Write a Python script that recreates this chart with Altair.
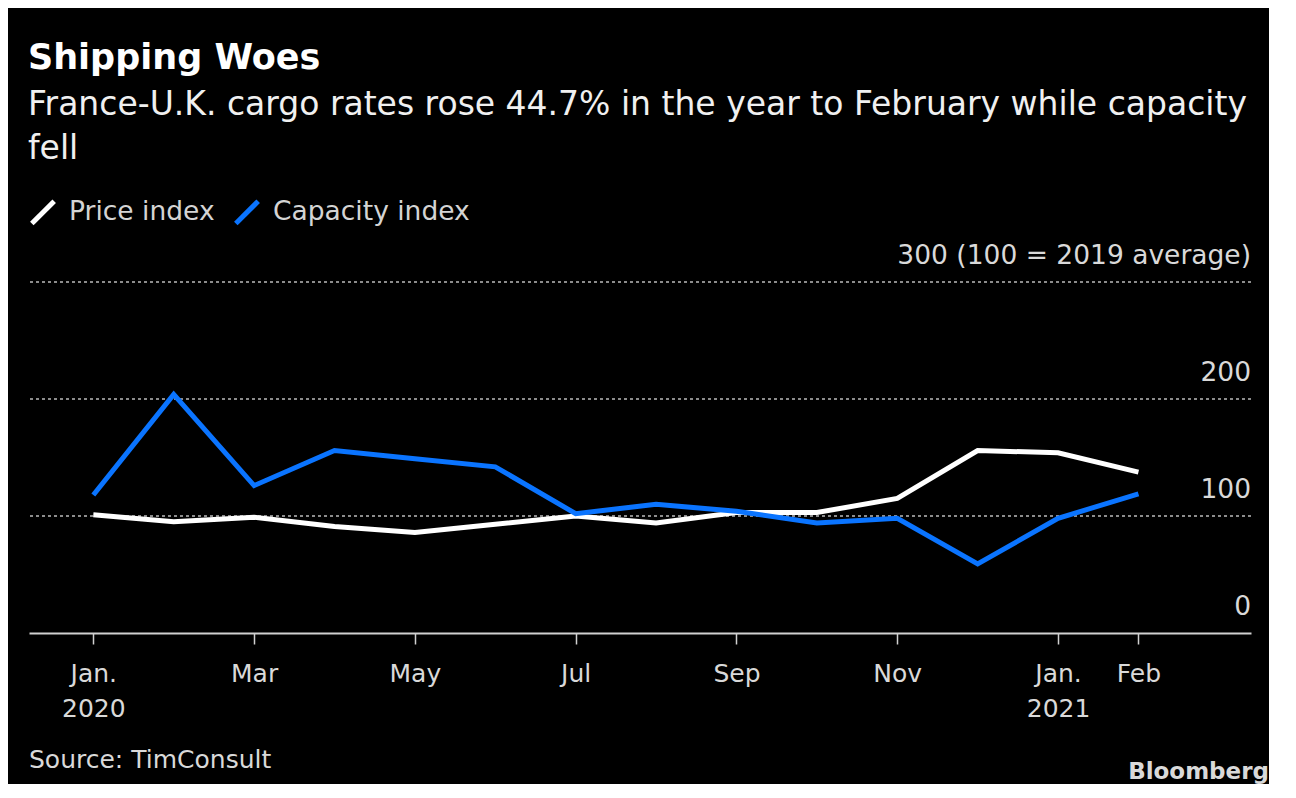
import altair as alt
import pandas as pd

FONT = "DejaVu Sans"

# ---- data ----
month_index = list(range(14))  # Jan 2020 .. Feb 2021
price_index = [101, 95, 99, 91, 86, 93, 100, 94, 103, 103, 115, 156, 154, 137.5]
capacity_index = [118, 204, 126, 156, 149, 142, 102, 110, 104, 94, 98, 59, 98, 119]

series_names = ["Price index", "Capacity index"]
series_colors = ["#ffffff", "#0a74ff"]

grid_values = [100, 200, 300]
ylabel_values = [0, 100, 200, 300]
ylabel_texts = ["0", "100", "200", "300 (100 = 2019 average)"]

xtick_values = [0, 2, 4, 6, 8, 10, 12, 13]
xtick_labels = [["Jan.", "2020"], ["Mar"], ["May"], ["Jul"], ["Sep"], ["Nov"], ["Jan.", "2021"], ["Feb"]]

W, H = 1222, 402
YMAX = 343.6

rows = []
for i, m in enumerate(month_index):
    rows.append({"m": m, "value": price_index[i], "series": series_names[0]})
    rows.append({"m": m, "value": capacity_index[i], "series": series_names[1]})
lines_df = pd.DataFrame(rows)
grid_df = pd.DataFrame({"value": grid_values})
ylab_df = pd.DataFrame({"value": ylabel_values, "label": ylabel_texts})

# label expression built from the tick label lists
expr = "''"
for v, lab in reversed(list(zip(xtick_values, xtick_labels))):
    arr = "[" + ",".join("'" + s + "'" for s in lab) + "]"
    expr = f"datum.value == {v} ? {arr} : ({expr})"

yscale = alt.Scale(domain=[0, YMAX], nice=False, zero=False)

grid = alt.Chart(grid_df).mark_rule(color="#8c8c8c", strokeDash=[3, 3], strokeWidth=2).encode(
    y=alt.Y("value:Q", scale=yscale, axis=None)
)

lines = alt.Chart(lines_df).mark_line(strokeWidth=5).encode(
    x=alt.X("m:Q", scale=alt.Scale(domain=[-0.8, 14.4], nice=False, zero=False),
            axis=alt.Axis(values=xtick_values, labelExpr=expr, title=None, grid=False,
                          domainColor="#d0d0d0", domainWidth=2, tickColor="#d0d0d0", tickWidth=1.5,
                          tickSize=11, labelFont=FONT, labelFontSize=25, labelColor="#d9d9d9",
                          labelPadding=17, labelLineHeight=35, labelBaseline="top",
                          labelAlign="center", labelFlush=False, labelOverlap=False)),
    y=alt.Y("value:Q", scale=yscale, axis=None),
    color=alt.Color("series:N",
                    scale=alt.Scale(domain=series_names, range=series_colors),
                    sort=series_names,
                    legend=alt.Legend(title=None, orient="none", legendX=0, legendY=-33,
                                      direction="horizontal", symbolType="M-1,1L1,-1",
                                      symbolSize=500, symbolStrokeWidth=5,
                                      labelFont=FONT, labelFontSize=26.5, labelColor="#d4d4d4",
                                      labelLimit=500, labelOffset=12, columnPadding=10)),
)

ylabels = alt.Chart(ylab_df).mark_text(align="right", baseline="alphabetic", dy=-18,
                                       font=FONT, fontSize=26.5, color="#d9d9d9").encode(
    x=alt.value(W),
    y=alt.Y("value:Q", scale=yscale, axis=None),
    text="label:N",
)

source = alt.Chart(pd.DataFrame({"t": ["Source: TimConsult"]})).mark_text(
    align="left", baseline="alphabetic", font=FONT, fontSize=25, color="#d9d9d9"
).encode(x=alt.value(0), y=alt.value(537), text="t:N")

logo = alt.Chart(pd.DataFrame({"t": ["Bloomberg"]})).mark_text(
    align="right", baseline="alphabetic", font=FONT, fontSize=23, fontWeight="bold", color="#d9d9d9"
).encode(x=alt.value(W + 18), y=alt.value(548), text="t:N")

chart = alt.layer(grid, lines, ylabels, source, logo).properties(
    width=W, height=H,
    padding={"left": 20, "top": 33, "right": 0, "bottom": 0},
    background="#000000",
    title=alt.TitleParams(
        text="Shipping Woes",
        subtitle=["France-U.K. cargo rates rose 44.7% in the year to February while capacity", "fell"],
        anchor="start", font=FONT, fontSize=35, fontWeight="bold", color="#ffffff",
        subtitleFont=FONT, subtitleFontSize=33, subtitleColor="#f0f0f0",
        subtitleLineHeight=44, subtitlePadding=13, offset=32,
    ),
).configure_view(stroke=None)

chart.save("out.html", embed_options={"renderer": "svg", "actions": False})
